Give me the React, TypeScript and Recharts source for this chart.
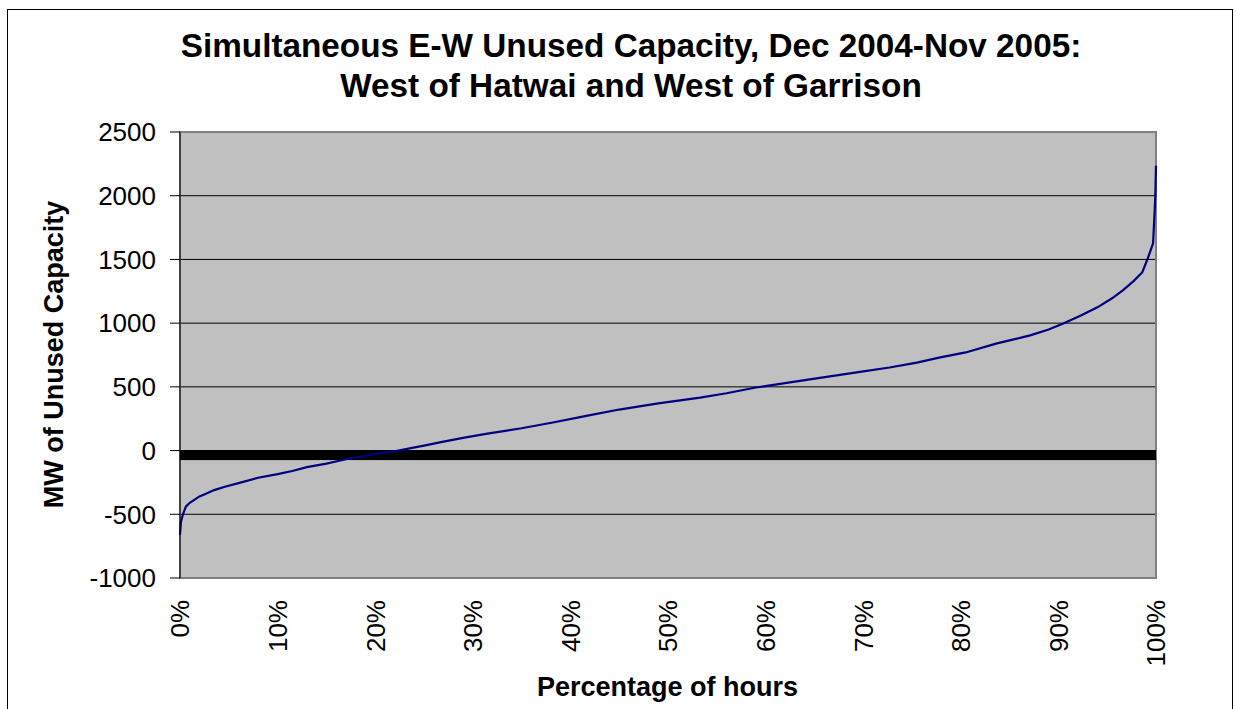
import React from "react";
import {
  LineChart,
  Line,
  XAxis,
  YAxis,
  CartesianGrid,
  ReferenceLine,
  ReferenceArea,
} from "recharts";

// Percentage of hours (x) and MW of unused capacity (y)
const PCT = [
  0, 0.1, 0.3, 0.6, 1, 1.5, 2, 2.6, 3.5, 4.6, 6, 8, 10, 11.5, 13, 15, 17, 18.5,
  20, 22, 23.4, 25, 27, 29, 31.5, 35, 38.2, 41.5, 45, 49, 53.3, 56, 59, 62.5,
  65.9, 69.5, 72.7, 75.5, 77.9, 80.5, 83.7, 85, 87.1, 89, 90.5, 92.3, 94, 95.5,
  96.6, 97.7, 98.6, 99.2, 99.7, 99.85, 99.93, 100,
];
const MW = [
  -660, -560, -500, -440, -410, -385, -360, -340, -310, -284, -255, -213, -185,
  -160, -130, -103, -68, -50, -26, -5, 15, 39, 70, 100, 133, 175, 220, 270, 322,
  370, 416, 450, 495, 535, 574, 615, 652, 690, 731, 770, 841, 865, 904, 950,
  998, 1060, 1124, 1195, 1258, 1330, 1400, 1517, 1627, 1860, 2000, 2235,
];
const X_TICKS = [0, 10, 20, 30, 40, 50, 60, 70, 80, 90, 100];
const Y_TICKS = [-1000, -500, 0, 500, 1000, 1500, 2000, 2500];

const TITLE_1 = "Simultaneous E-W Unused Capacity, Dec 2004-Nov 2005:";
const TITLE_2 = "West of Hatwai and West of Garrison";
const Y_LABEL = "MW of Unused Capacity";
const X_LABEL = "Percentage of hours";

const data = PCT.map((p, i) => ({ pct: p, mw: MW[i] }));

const FONT = "Arial, 'Liberation Sans', Helvetica, sans-serif";

const XTick = (props: any) => {
  const { x, y, payload } = props;
  return (
    <text
      x={x}
      y={y}
      transform={`rotate(-90, ${x}, ${y})`}
      textAnchor="end"
      dy="0.36em"
      fontSize={26}
      fontFamily={FONT}
      fill="#000"
    >
      {`${payload.value}%`}
    </text>
  );
};

const AxisBand = (props: any) => {
  const { x1, y1, x2 } = props;
  return (
    <g>
      <rect x={x1} y={y1 - 0.5} width={x2 - x1} height={10} fill="#000" />
    </g>
  );
};

export default function App() {
  return (
    <div style={{ position: "relative", width: 1236, height: 709, background: "#fff", overflow: "hidden" }}>
      <style>{"body{margin:0;overflow:hidden;background:#fff}"}</style>
      <div
        style={{
          position: "absolute",
          left: 7,
          top: 9,
          width: 1226,
          height: 720,
          border: "1px solid #000",
          boxSizing: "border-box",
        }}
      />
      <div
        style={{
          position: "absolute",
          left: 131,
          top: 26,
          width: 1000,
          textAlign: "center",
          fontFamily: FONT,
          fontWeight: "bold",
          fontSize: 33.3,
          lineHeight: "40px",
          color: "#000",
          whiteSpace: "nowrap",
        }}
      >
        <div>{TITLE_1}</div>
        <div>{TITLE_2}</div>
      </div>
      <div style={{ position: "absolute", left: 0, top: 0 }}>
        <LineChart
          width={1236}
          height={709}
          data={data}
          margin={{ top: 132, right: 80, bottom: 31, left: 0 }}
        >
          <CartesianGrid
            vertical={false}
            stroke="#000"
            strokeWidth={1}
            fill="#C0C0C0"
            fillOpacity={1}
          />
          <XAxis
            type="number"
            dataKey="pct"
            domain={[0, 100]}
            ticks={X_TICKS}
            interval={0}
            axisLine={false}
            tickLine={false}
            tickSize={0}
            tickMargin={22}
            height={100}
            tick={XTick}
          />
          <YAxis
            type="number"
            domain={[-1000, 2500]}
            ticks={Y_TICKS}
            interval={0}
            width={180}
            tickSize={10}
            tickMargin={14}
            axisLine={{ stroke: "#000", strokeWidth: 1 }}
            tickLine={{ stroke: "#000" }}
            tick={{ fontSize: 26, fontFamily: FONT, fill: "#000" }}
          />
          <ReferenceArea
            x1={0}
            x2={100}
            y1={-1000}
            y2={2500}
            fill="none"
            fillOpacity={0}
            stroke="#808080"
            strokeWidth={2}
          />
          <ReferenceLine y={0} stroke="#000" shape={AxisBand} />
          <Line
            type="linear"
            dataKey="mw"
            stroke="#000080"
            strokeWidth={2.2}
            dot={false}
            activeDot={false}
            isAnimationActive={false}
          />
        </LineChart>
      </div>
      <svg
        width={1236}
        height={709}
        style={{ position: "absolute", left: 0, top: 0, pointerEvents: "none" }}
      >
        <text
          x={63}
          y={354.5}
          transform="rotate(-90, 63, 354.5)"
          textAnchor="middle"
          fontSize={27}
          fontWeight="bold"
          fontFamily={FONT}
          fill="#000"
        >
          {Y_LABEL}
        </text>
        <text
          x={667.5}
          y={696}
          textAnchor="middle"
          fontSize={27}
          fontWeight="bold"
          fontFamily={FONT}
          fill="#000"
        >
          {X_LABEL}
        </text>
      </svg>
    </div>
  );
}
